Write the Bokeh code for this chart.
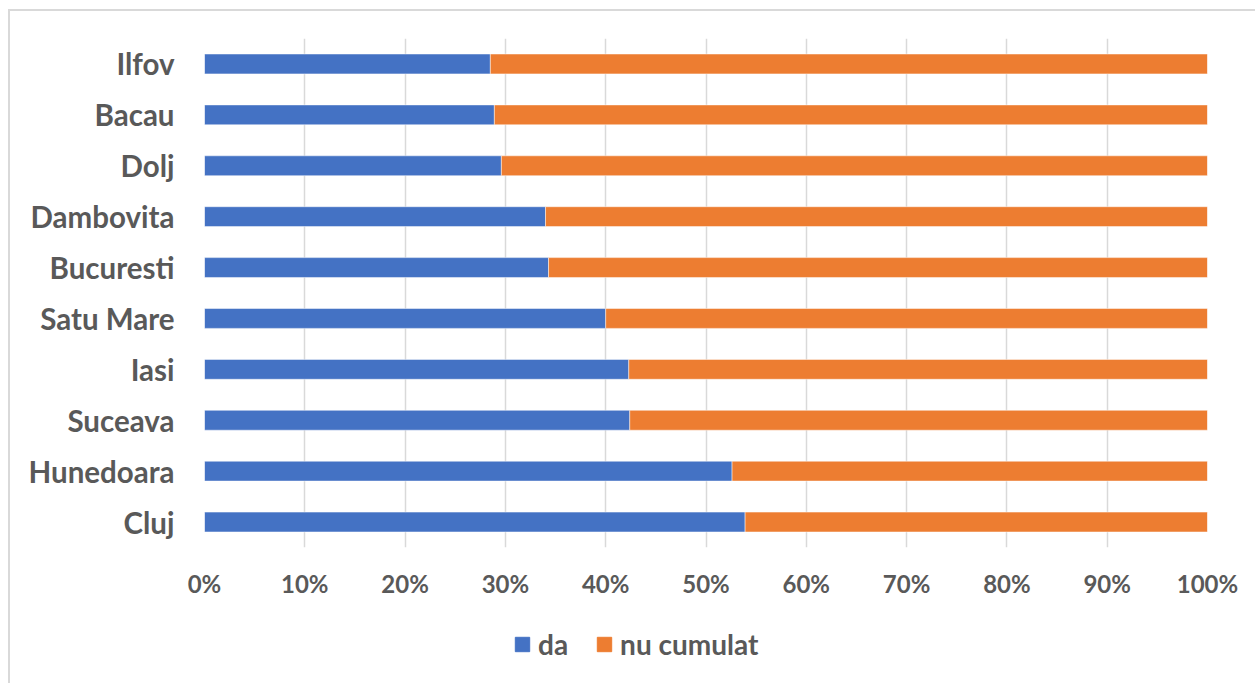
from bokeh.plotting import figure
from bokeh.layouts import column
from bokeh.models import ColumnDataSource, FactorRange, Range1d, Legend, LegendItem, FixedTicker, CustomJSTickFormatter
from bokeh.embed import file_html
from bokeh.resources import INLINE

counties = ["Ilfov", "Bacau", "Dolj", "Dambovita", "Bucuresti", "Satu Mare", "Iasi", "Suceava", "Hunedoara", "Cluj"]
da = [28.5, 28.9, 29.6, 34.0, 34.3, 40.0, 42.3, 42.4, 52.6, 53.9]
nu_cumulat = [71.5, 71.1, 70.4, 66.0, 65.7, 60.0, 57.7, 57.6, 47.4, 46.1]
series = ["da", "nu cumulat"]
colors = ["#4472C4", "#ED7D31"]
x_ticks = [0, 10, 20, 30, 40, 50, 60, 70, 80, 90, 100]

source = ColumnDataSource(dict(county=counties, da=da, nu=nu_cumulat))

FONT = "Lato"
GREY = "#595959"
BORDER = "#d9d9d9"

y_range = FactorRange(factors=counties[::-1], range_padding=0)
x_range = Range1d(0, 100)

# ---- main chart ----
p = figure(width=1255, height=600, output_backend="svg", toolbar_location=None,
           y_range=y_range, x_range=x_range)
p.min_border_left = 204
p.min_border_right = 48
p.min_border_top = 38
p.min_border_bottom = 49
p.outline_line_color = None
p.border_fill_alpha = 0
p.background_fill_alpha = 0
p.styles = {
    "background-image": f"linear-gradient({BORDER}, {BORDER}), linear-gradient({BORDER}, {BORDER})",
    "background-size": "2px 100%, 100% 2px",
    "background-position": "8px 9px, 8px 9px",
    "background-repeat": "no-repeat",
    "background-color": "white",
}

p.hbar_stack(["da", "nu"], y="county", height=0.39, color=colors,
             line_color="white", line_width=0.8, line_alpha=0.6, source=source)

p.xaxis.ticker = FixedTicker(ticks=x_ticks)
p.xaxis.formatter = CustomJSTickFormatter(code="return tick + '%';")
p.xaxis.axis_line_color = None
p.xaxis.major_tick_line_color = None
p.xaxis.minor_tick_line_color = None
p.xaxis.major_label_text_font = FONT
p.xaxis.major_label_text_font_style = "bold"
p.xaxis.major_label_text_font_size = "24px"
p.xaxis.major_label_text_color = GREY
p.xaxis.major_label_standoff = 15

p.yaxis.axis_line_color = None
p.yaxis.major_tick_line_color = None
p.yaxis.major_tick_out = 0
p.yaxis.major_tick_in = 0
p.yaxis.major_label_text_font = FONT
p.yaxis.major_label_text_font_style = "bold"
p.yaxis.major_label_text_font_size = "29.5px"
p.yaxis.major_label_text_color = GREY
p.yaxis.major_label_standoff = 30

p.xgrid.grid_line_color = BORDER
p.xgrid.grid_line_width = 1.5
p.ygrid.grid_line_color = None

# ---- legend strip ----
pl = figure(width=1255, height=83, output_backend="svg", toolbar_location=None,
            y_range=y_range, x_range=x_range, x_axis_location=None, y_axis_location=None)
pl.min_border_left = 0
pl.min_border_right = 0
pl.min_border_top = 0
pl.min_border_bottom = 0
pl.outline_line_color = None
pl.grid.visible = False
pl.border_fill_alpha = 0
pl.background_fill_alpha = 0
pl.styles = {
    "background-image": f"linear-gradient({BORDER}, {BORDER})",
    "background-size": "2px 100%",
    "background-position": "8px 0px",
    "background-repeat": "no-repeat",
    "background-color": "white",
}
rl = pl.hbar_stack(["da", "nu"], y="county", height=0.39, color=colors, source=source)
for r in rl:
    r.visible = False

legend = Legend(items=[LegendItem(label=series[i], renderers=[rl[i]]) for i in range(2)],
                orientation="horizontal", location=(309, 22))
legend.border_line_color = None
legend.background_fill_alpha = 0
legend.padding = 0
legend.margin = 0
legend.spacing = 27
legend.glyph_width = 18
legend.glyph_height = 18
legend.label_height = 18
legend.label_standoff = 7
legend.label_text_font = FONT
legend.label_text_font_style = "bold"
legend.label_text_font_size = "28px"
legend.label_text_color = GREY
legend.label_text_baseline = "middle"
pl.add_layout(legend, "center")

layout = column(p, pl, spacing=0)
open("out.html", "w").write(file_html(layout, INLINE))
